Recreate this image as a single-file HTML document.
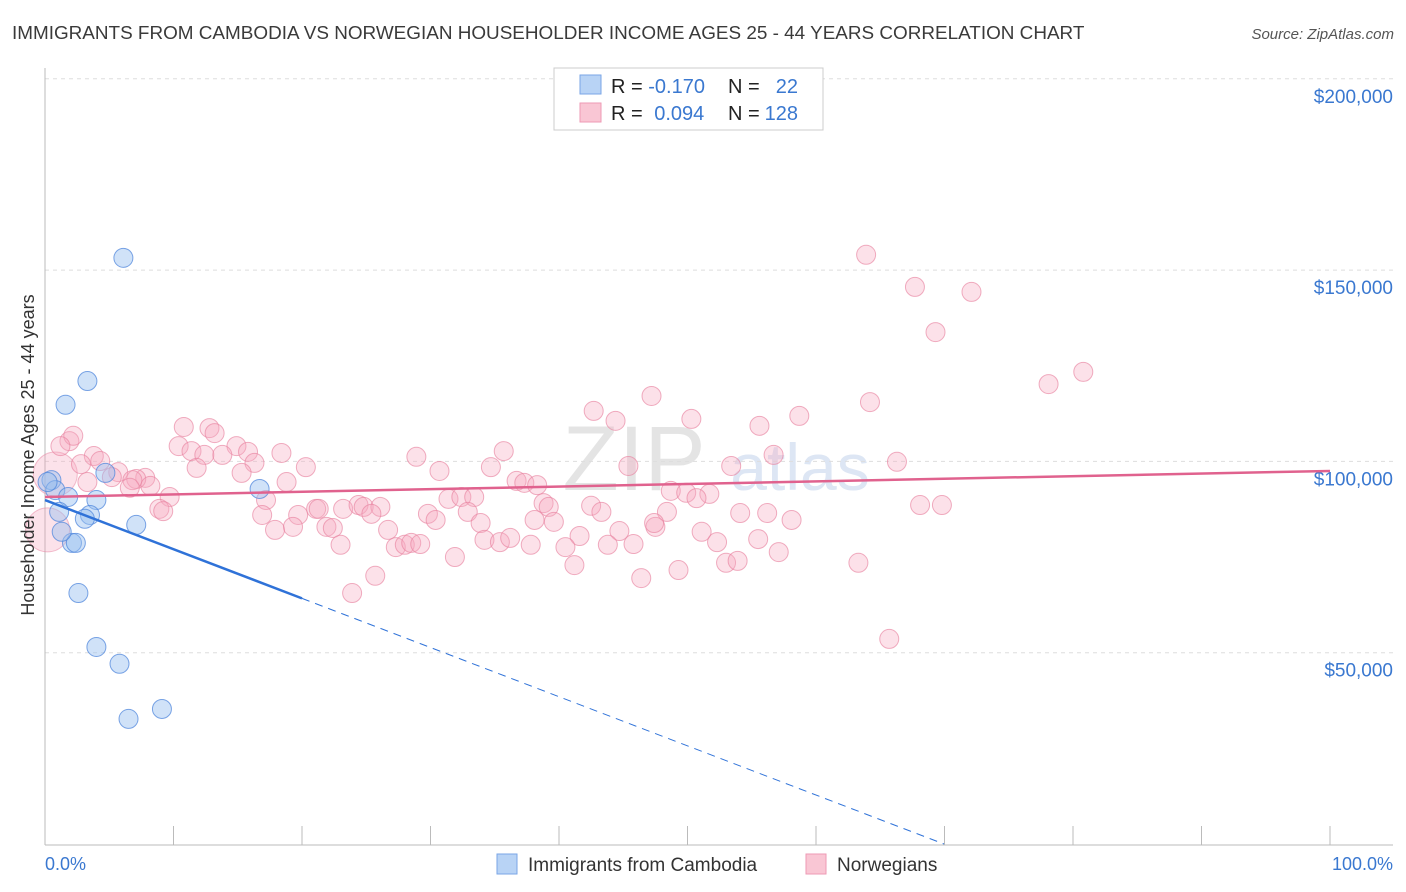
<!DOCTYPE html>
<html><head><meta charset="utf-8"><style>
body{margin:0;background:#fff;font-family:"Liberation Sans",sans-serif;}
#wrap{position:relative;width:1406px;height:892px;overflow:hidden;}
svg text{font-family:"Liberation Sans",sans-serif;}
</style></head><body>
<div id="wrap">
<svg id="chart" width="1406" height="892">
<text x="12" y="39" font-size="18.9" fill="#3a3a3a">IMMIGRANTS FROM CAMBODIA VS NORWEGIAN HOUSEHOLDER INCOME AGES 25 - 44 YEARS CORRELATION CHART</text>
<text x="1394" y="39" font-size="15" fill="#555" font-style="italic" text-anchor="end">Source: ZipAtlas.com</text>
<text x="634" y="490" font-size="92" fill="#e4e4e4" font-family="Liberation Serif" text-anchor="middle">ZIP</text>
<text x="800" y="490" font-size="66" fill="#dde6f4" text-anchor="middle">atlas</text>
<g id="grid"></g><g id="axes"></g><g id="marks"></g>
<text transform="translate(34,455) rotate(-90)" font-size="18" fill="#333" text-anchor="middle">Householder Income Ages 25 - 44 years</text>
<text x="45" y="870" font-size="18" fill="#3a78d0">0.0%</text>
<text x="1393" y="870" font-size="18" fill="#3a78d0" text-anchor="end">100.0%</text>
<g>
<rect x="554" y="68" width="269" height="62" fill="#fff" stroke="#ccc"/>
<rect x="580" y="75" width="21" height="19" fill="#b8d3f5" stroke="#7aa6e6"/>
<rect x="580" y="103" width="21" height="19" fill="#f9c6d4" stroke="#ee9ab4"/>
<text x="611" y="93" font-size="20" fill="#222">R = <tspan fill="#3a78d0">-0.170</tspan></text>
<text x="728" y="93" font-size="20" fill="#222">N =</text><text x="798" y="93" font-size="20" fill="#3a78d0" text-anchor="end">22</text>
<text x="611" y="120" font-size="20" fill="#222">R = <tspan fill="#3a78d0" dx="6">0.094</tspan></text>
<text x="728" y="120" font-size="20" fill="#222">N =</text><text x="798" y="120" font-size="20" fill="#3a78d0" text-anchor="end">128</text>
</g>
<g>
<rect x="497" y="854" width="20" height="20" fill="#b8d3f5" stroke="#7aa6e6"/>
<text x="528" y="871" font-size="19" fill="#333">Immigrants from Cambodia</text>
<rect x="806" y="854" width="20" height="20" fill="#f9c6d4" stroke="#ee9ab4"/>
<text x="837" y="871" font-size="19" fill="#333">Norwegians</text>
</g>
</svg></div>
<script>
const yTicks=[50000,100000,150000,200000];
const yTickLabels=["$50,000","$100,000","$150,000","$200,000"];
const blueX=[6.1,3.3,1.6,0.5,0.8,1.8,4.0,1.1,3.5,3.1,7.1,4.7,16.7,2.1,2.4,1.3,2.6,4.0,5.8,9.1,6.5,0.2];
const blueY=[153.2,121.0,114.8,95.1,92.5,90.7,89.9,86.8,86.0,85.0,83.4,97.0,92.8,78.7,78.7,81.6,65.6,51.5,47.1,35.3,32.7,94.6];
const pinkX=[63.9,67.7,72.1,69.3,78.1,80.8,47.2,64.2,42.7,44.4,50.3,58.7,55.6,10.8,12.8,13.2,1.9,2.2,1.2,10.4,11.4,14.9,12.4,13.8,15.8,18.4,35.7,28.9,56.7,3.8,4.3,2.8,5.7,7.8,7.1,11.8,16.3,15.3,20.3,30.7,34.7,45.4,53.4,66.3,5.2,6.8,3.3,18.8,36.7,37.3,38.3,6.6,8.2,9.7,8.9,9.2,17.2,31.4,32.4,33.4,48.7,49.9,51.7,50.7,38.8,39.2,42.5,43.3,21.1,21.3,19.7,16.9,23.2,24.4,24.8,26.1,25.4,29.8,32.9,30.4,48.4,54.1,56.2,58.1,68.1,69.8,17.9,19.3,21.9,22.4,26.7,33.9,38.1,39.6,41.6,44.7,47.5,51.1,47.4,34.2,35.4,36.2,37.8,27.3,28.0,28.5,29.2,23.0,40.5,43.8,45.8,52.3,55.5,57.1,31.9,41.2,49.3,53.0,53.9,63.3,25.7,46.4,23.9,65.7];
const pinkY=[154.0,145.6,144.3,133.8,120.2,123.4,117.1,115.5,113.2,110.6,111.1,111.9,109.3,109.0,108.7,107.4,105.3,106.7,104.0,104.0,102.7,104.0,101.7,101.7,102.5,102.2,102.7,101.2,101.7,101.4,100.1,99.3,97.2,95.7,95.4,98.3,99.6,97.0,98.5,97.5,98.5,98.8,98.8,99.9,95.9,95.1,94.6,94.6,94.9,94.4,93.8,93.1,93.6,90.7,87.6,87.0,89.9,90.2,90.7,90.7,92.3,91.8,91.5,90.4,89.1,88.1,88.4,86.8,87.6,87.6,86.0,86.0,87.6,88.6,88.1,88.1,86.3,86.3,86.8,84.7,86.8,86.5,86.5,84.7,88.6,88.6,82.1,82.9,82.9,82.6,82.1,83.9,84.7,84.2,80.5,81.8,82.9,81.6,83.9,79.5,78.9,80.0,78.2,77.6,78.2,78.7,78.4,78.2,77.6,78.2,78.4,78.9,79.7,76.3,75.0,72.9,71.6,73.5,74.0,73.5,70.1,69.5,65.6,53.6];
const bigPinkX=[0.8,0.2];
const bigPinkY=[96.7,82.1];
const pinkTrend=[90.7,97.5];
const blueTrend=[89.9,-1.285];
const NS="http://www.w3.org/2000/svg";
const X0=45,X1=1330,Y0=844,PXPERK=191.3/50;
const xs=p=>X0+(X1-X0)*p/100;
const ys=k=>Y0-k*PXPERK;
function mk(tag,attrs,parent){const e=document.createElementNS(NS,tag);for(const k in attrs)e.setAttribute(k,attrs[k]);parent.appendChild(e);return e;}
const grid=document.getElementById('grid'),axes=document.getElementById('axes'),marks=document.getElementById('marks');
yTicks.forEach((t,i)=>{
 const y=ys(t/1000);
 const l=mk('line',{x1:45,x2:1393,y1:y,y2:y,stroke:'#ddd','stroke-dasharray':'4,4'},grid);
 
 
 const tx=mk('text',{x:1393,y:y+24,'font-size':19,fill:'#3a78d0','text-anchor':'end'},grid);
 tx.textContent=yTickLabels[i];
 
 
});
const ax=mk('line',{x1:45,x2:45,y1:68,y2:845,stroke:'#bbb'},axes);


const bx=mk('line',{x1:45,x2:1393,y1:845,y2:845,stroke:'#bbb'},axes);


for(let i=0;i<=10;i++){const x=xs(i*10);const t=mk('line',{x1:x,x2:x,y1:826,y2:845,stroke:'#bbb'},axes);
 
 }
function dot(x,y,r,fill,stroke,name){const c=mk('circle',{cx:xs(x),cy:ys(y),r:r,fill:fill,stroke:stroke,'stroke-width':1},marks);
 
 }
bigPinkX.forEach((x,i)=>dot(x,bigPinkY[i],22,'rgba(244,160,185,0.3)','rgba(232,130,160,0.5)','norwegian-point-large'));
pinkX.forEach((x,i)=>dot(x,pinkY[i],9.5,'rgba(246,170,192,0.35)','rgba(232,130,160,0.65)','norwegian-point'));
blueX.forEach((x,i)=>dot(x,blueY[i],9.5,'rgba(150,190,240,0.45)','rgba(80,135,220,0.75)','cambodia-point'));
const pl=mk('line',{x1:xs(0),y1:ys(pinkTrend[0]),x2:xs(100),y2:ys(pinkTrend[1]),stroke:'#e0628e','stroke-width':2.5},marks);


const bEnd=20,zero=-blueTrend[0]/blueTrend[1];
const b1=mk('line',{x1:xs(0),y1:ys(blueTrend[0]),x2:xs(bEnd),y2:ys(blueTrend[0]+blueTrend[1]*bEnd),stroke:'#2f72d8','stroke-width':2.5},marks);


const b2=mk('line',{x1:xs(bEnd),y1:ys(blueTrend[0]+blueTrend[1]*bEnd),x2:xs(zero),y2:ys(0),stroke:'#2f72d8','stroke-width':1,'stroke-dasharray':'8,6'},marks);


</script>
</body></html>
